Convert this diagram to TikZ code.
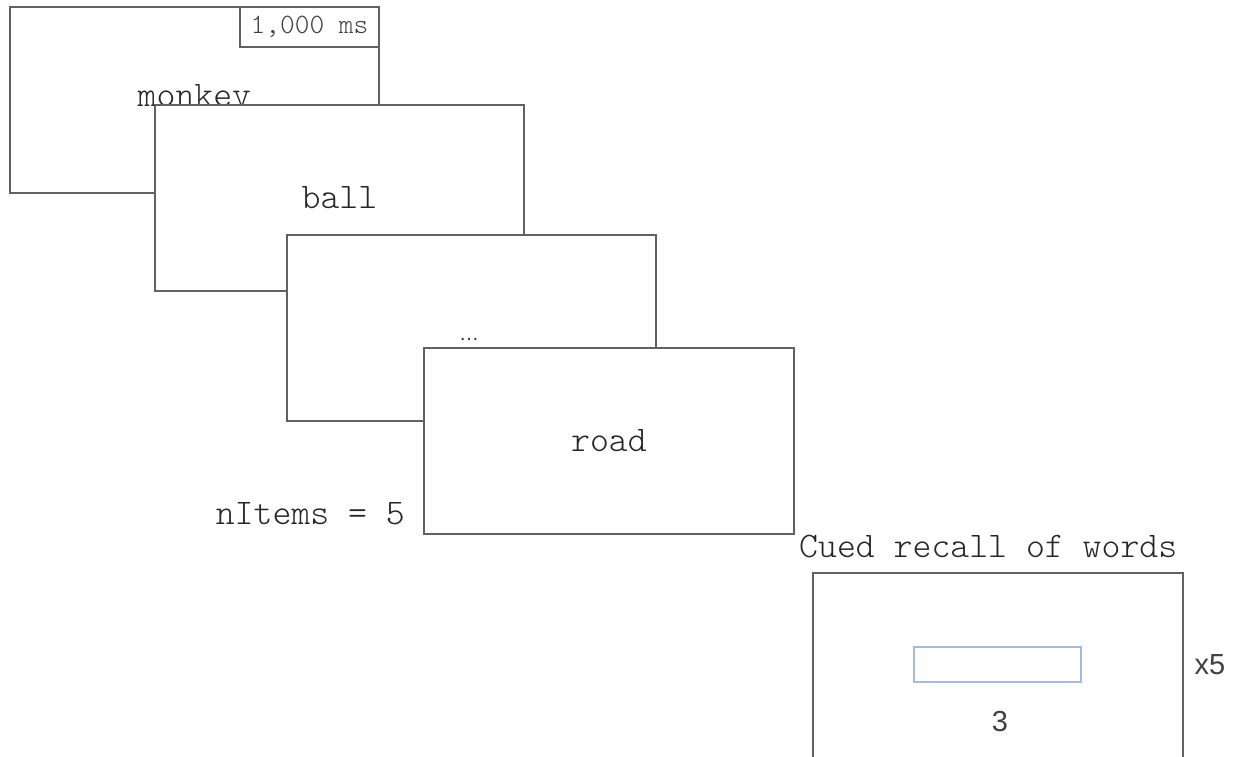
\documentclass[tikz,border=0pt]{standalone}
\usepackage{fontspec}
\newfontfamily\sansf{Liberation Sans}
\begin{document}
\begin{tikzpicture}[x=1pt,y=-1pt,
  screen/.style={draw=black!62,line width=1.8pt,fill=white,rectangle,inner sep=0pt,
    minimum width=369pt,minimum height=186pt,anchor=north west,
    font=\fontseries{l}\ttfamily\fontsize{36}{36}\selectfont,text=black!85},
  lbl/.style={inner sep=0pt,font=\fontseries{l}\ttfamily\fontsize{36}{36}\selectfont,text=black!85}]
\useasboundingbox (0,0) rectangle (1236,756);
\node[screen] (s1) at (9,6) {monkey};
\node[draw=black!62,line width=1.6pt,fill=white,inner sep=0pt,minimum width=139pt,minimum height=40pt,
  anchor=north east,font=\fontseries{l}\ttfamily\fontsize{28}{28}\selectfont,text=black!75] (t1) at (s1.north east) {1,000 ms};
\node[screen] (s2) at (154,104) {ball};
\node[screen] (s3) at (286,234) {};
\node[inner sep=0pt,font=\sansf\fontsize{20}{20}\selectfont,text=black!80,anchor=base] (dots) at (469,340) {…};
\node[screen,minimum width=370pt,minimum height=186pt] (s4) at (423,347) {road};
\node[lbl,anchor=base east] (n) at (405,524) {nItems = 5};
\node[screen,minimum width=370pt,minimum height=190pt] (s5) at (812,572) {};
\node[lbl,anchor=base west] (c) at (799,557) {Cued recall of words};
\node[draw={rgb,255:red,168;green,186;blue,218},line width=1.2pt,inner sep=0pt,minimum width=167pt,minimum height=35pt] (in) at (997.5,664.5) {};
\node[inner sep=0pt,font=\sansf\fontsize{29}{29}\selectfont,text=black!75] (three) at (1000,722) {3};
\node[inner sep=0pt,font=\sansf\fontsize{29}{29}\selectfont,text=black!75] (x5) at (1210,665) {x5};
\end{tikzpicture}
\end{document}
